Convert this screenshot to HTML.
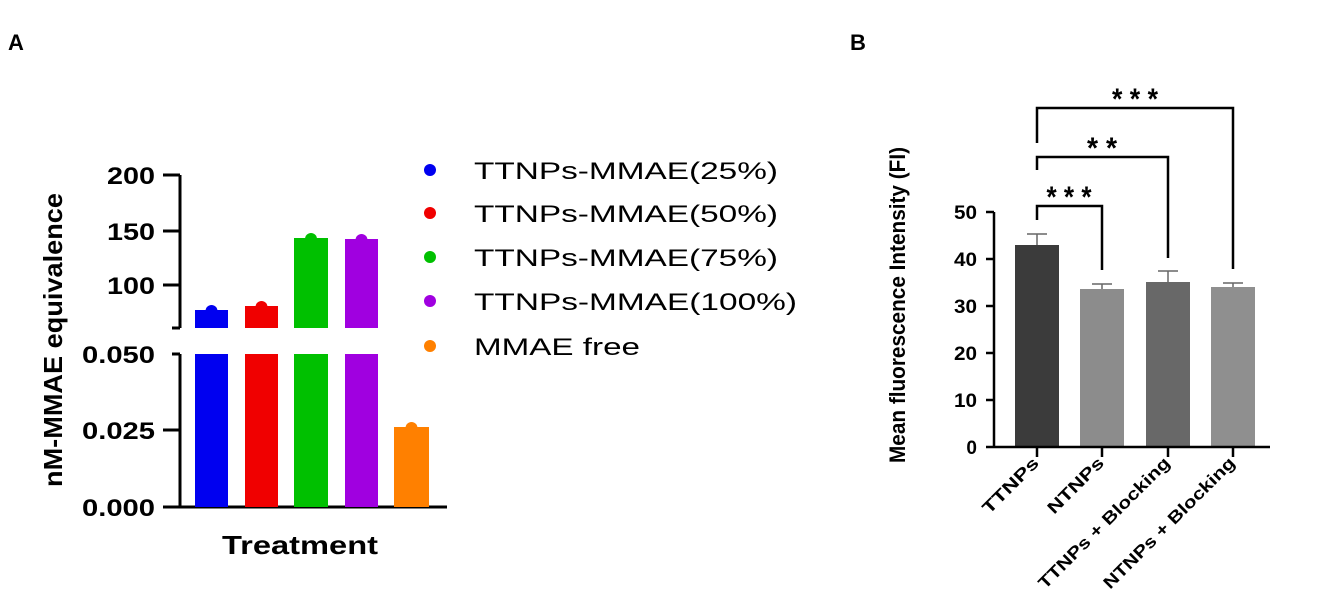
<!DOCTYPE html>
<html><head><meta charset="utf-8"><style>html,body{margin:0;padding:0;background:#fff}svg{display:block}</style></head>
<body>
<svg width="1326" height="599" viewBox="0 0 1326 599" xmlns="http://www.w3.org/2000/svg" font-family="Liberation Sans, sans-serif">
<text x="8" y="50" font-size="22" font-weight="bold">A</text>
<text x="850" y="50" font-size="22" font-weight="bold">B</text>
<!-- Chart A -->
<g stroke="#000" stroke-width="3" fill="none">
<line x1="180" y1="175" x2="180" y2="328"/>
<line x1="180" y1="354" x2="180" y2="508"/>
<line x1="163" y1="507" x2="447" y2="507"/>
<line x1="163" y1="175" x2="180" y2="175"/>
<line x1="163" y1="231" x2="180" y2="231"/>
<line x1="163" y1="285" x2="180" y2="285"/>
<line x1="172" y1="328" x2="180" y2="328"/>
<line x1="172" y1="354" x2="180" y2="354"/>
<line x1="163" y1="430" x2="180" y2="430"/>
</g>
<g font-size="24" font-weight="bold" text-anchor="end">
<text x="155" y="184" textLength="48" lengthAdjust="spacingAndGlyphs">200</text>
<text x="155" y="240" textLength="48" lengthAdjust="spacingAndGlyphs">150</text>
<text x="155" y="294" textLength="48" lengthAdjust="spacingAndGlyphs">100</text>
<text x="155" y="363" textLength="73" lengthAdjust="spacingAndGlyphs">0.050</text>
<text x="155" y="439" textLength="73" lengthAdjust="spacingAndGlyphs">0.025</text>
<text x="155" y="516" textLength="73" lengthAdjust="spacingAndGlyphs">0.000</text>
</g>
<text transform="translate(62,340) rotate(-90)" font-size="26" font-weight="bold" text-anchor="middle" textLength="294" lengthAdjust="spacingAndGlyphs">nM-MMAE equivalence</text>
<text x="300" y="554" font-size="26" font-weight="bold" text-anchor="middle" textLength="156" lengthAdjust="spacingAndGlyphs">Treatment</text>
<g>
<rect x="195" y="310" width="33" height="18" fill="#0000f0"/><rect x="195" y="354" width="33" height="153" fill="#0000f0"/><circle cx="211.5" cy="311" r="6" fill="#0000f0"/>
<rect x="245" y="306" width="33" height="22" fill="#f00000"/><rect x="245" y="354" width="33" height="153" fill="#f00000"/><circle cx="261.5" cy="307" r="6" fill="#f00000"/>
<rect x="294" y="238" width="34" height="90" fill="#00c000"/><rect x="294" y="354" width="34" height="153" fill="#00c000"/><circle cx="311" cy="239" r="6" fill="#00c000"/>
<rect x="345" y="239" width="33" height="89" fill="#a000e0"/><rect x="345" y="354" width="33" height="153" fill="#a000e0"/><circle cx="361.5" cy="240" r="6" fill="#a000e0"/>
<rect x="394" y="427" width="35" height="80" fill="#ff8000"/><circle cx="411.5" cy="428" r="6" fill="#ff8000"/>
</g>
<g font-size="24">
<circle cx="430" cy="170" r="6" fill="#0000f0"/><text x="474" y="179" textLength="304" lengthAdjust="spacingAndGlyphs">TTNPs-MMAE(25%)</text>
<circle cx="430" cy="213" r="6" fill="#f00000"/><text x="474" y="222" textLength="304" lengthAdjust="spacingAndGlyphs">TTNPs-MMAE(50%)</text>
<circle cx="430" cy="257" r="6" fill="#00c000"/><text x="474" y="266" textLength="304" lengthAdjust="spacingAndGlyphs">TTNPs-MMAE(75%)</text>
<circle cx="430" cy="301" r="6" fill="#a000e0"/><text x="474" y="310" textLength="323" lengthAdjust="spacingAndGlyphs">TTNPs-MMAE(100%)</text>
<circle cx="430" cy="346" r="6" fill="#ff8000"/><text x="474" y="355" textLength="166" lengthAdjust="spacingAndGlyphs">MMAE free</text>
</g>
<!-- Chart B -->
<rect x="1015" y="245" width="44" height="202" fill="#3b3b3b"/>
<rect x="1080" y="289" width="44" height="158" fill="#8c8c8c"/>
<rect x="1146" y="282" width="44" height="165" fill="#686868"/>
<rect x="1211" y="287" width="44" height="160" fill="#8f8f8f"/>
<g stroke="#000" stroke-width="2.5" fill="none">
<line x1="994" y1="212" x2="994" y2="448"/>
<line x1="994" y1="447" x2="1270" y2="447"/>
<line x1="986" y1="212" x2="994" y2="212"/>
<line x1="986" y1="259" x2="994" y2="259"/>
<line x1="986" y1="306" x2="994" y2="306"/>
<line x1="986" y1="353" x2="994" y2="353"/>
<line x1="986" y1="400" x2="994" y2="400"/>
<line x1="986" y1="447" x2="994" y2="447"/>
<line x1="1037" y1="447" x2="1037" y2="457"/>
<line x1="1102" y1="447" x2="1102" y2="457"/>
<line x1="1168" y1="447" x2="1168" y2="457"/>
<line x1="1233" y1="447" x2="1233" y2="457"/>
<polyline points="1037,220 1037,206 1102,206 1102,270"/>
<polyline points="1037,170 1037,157 1168,157 1168,258"/>
<polyline points="1037,143 1037,108 1233,108 1233,269"/>
</g>
<g stroke="#666" stroke-width="1.5">
<line x1="1037" y1="245" x2="1037" y2="234"/><line x1="1027" y1="234" x2="1047" y2="234"/>
<line x1="1102" y1="289" x2="1102" y2="284"/><line x1="1092" y1="284" x2="1112" y2="284"/>
<line x1="1168" y1="282" x2="1168" y2="271"/><line x1="1158" y1="271" x2="1178" y2="271"/>
<line x1="1233" y1="287" x2="1233" y2="283"/><line x1="1223" y1="283" x2="1243" y2="283"/>
</g>
<g font-size="19" font-weight="bold" text-anchor="end">
<text x="977" y="219" textLength="23" lengthAdjust="spacingAndGlyphs">50</text><text x="977" y="266" textLength="23" lengthAdjust="spacingAndGlyphs">40</text><text x="977" y="313" textLength="23" lengthAdjust="spacingAndGlyphs">30</text>
<text x="977" y="360" textLength="23" lengthAdjust="spacingAndGlyphs">20</text><text x="977" y="407" textLength="23" lengthAdjust="spacingAndGlyphs">10</text><text x="977" y="454">0</text>
</g>
<g font-size="30" font-weight="bold" text-anchor="middle">
<text x="1069" y="207" textLength="45" lengthAdjust="spacingAndGlyphs">* * *</text>
<text x="1102" y="158" textLength="30" lengthAdjust="spacingAndGlyphs">* *</text>
<text x="1135" y="109" textLength="46" lengthAdjust="spacingAndGlyphs">* * *</text>
</g>
<text transform="translate(905,305) rotate(-90)" font-size="22" font-weight="bold" text-anchor="middle" textLength="316" lengthAdjust="spacingAndGlyphs">Mean fluorescence Intensity (FI)</text>
<g font-size="17" font-weight="bold" text-anchor="end">
<text transform="translate(1040,464) rotate(-45)" textLength="72" lengthAdjust="spacingAndGlyphs">TTNPs</text>
<text transform="translate(1105,464) rotate(-45)" textLength="72" lengthAdjust="spacingAndGlyphs">NTNPs</text>
<text transform="translate(1171,464) rotate(-45)" textLength="178" lengthAdjust="spacingAndGlyphs">TTNPs + Blocking</text>
<text transform="translate(1236,464) rotate(-45)" textLength="178" lengthAdjust="spacingAndGlyphs">NTNPs + Blocking</text>
</g>
</svg>
</body></html>
